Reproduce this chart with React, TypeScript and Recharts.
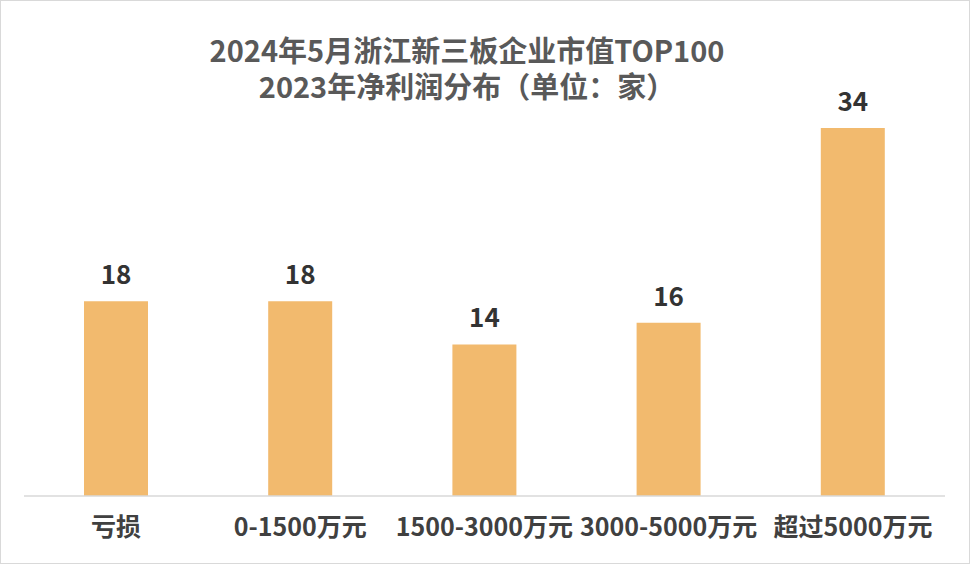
import React from "react";
import { BarChart, Bar, XAxis, YAxis, LabelList } from "recharts";

const categories = ["亏损", "0-1500万元", "1500-3000万元", "3000-5000万元", "超过5000万元"];
const counts = [18, 18, 14, 16, 34];
const titleLines = ["2024年5月浙江新三板企业市值TOP100", "2023年净利润分布（单位：家）"];

const data = categories.map((c, i) => ({ name: c, value: counts[i] }));

const FONT = '"Noto Sans CJK SC", "Noto Sans", sans-serif';

export default function App() {
  return (
    <div
      style={{
        position: "fixed",
        left: 0,
        top: 0,
        width: 970,
        height: 564,
        background: "#fff",
        fontFamily: FONT,
      }}
    >
      <div
        style={{
          position: "absolute",
          left: 0,
          top: 0,
          width: 968,
          height: 562,
          border: "1px solid #d9d9d9",
        }}
      />
      <div
        style={{
          position: "absolute",
          left: 0,
          top: 31,
          width: 934,
          textAlign: "center",
          fontSize: 29,
          fontWeight: 700,
          color: "#595959",
          lineHeight: "36px",
          whiteSpace: "pre",
        }}
      >
        {titleLines.join("\n")}
      </div>
      <div style={{ position: "absolute", left: 0, top: 0 }}>
        <BarChart
          width={970}
          height={564}
          data={data}
          margin={{ top: 63, right: 25, bottom: 38, left: 24 }}
        >
          <XAxis
            dataKey="name"
            axisLine={{ stroke: "#d9d9d9", strokeWidth: 1.5 }}
            tickLine={false}
            interval={0}
            tick={{ fontSize: 25, fontWeight: 700, fill: "#404040", fontFamily: FONT }}
            tickMargin={16}
          />
          <YAxis hide domain={[0, 40]} />
          <Bar dataKey="value" fill="#F2BA6E" isAnimationActive={false} barSize={64}>
            <LabelList
              dataKey="value"
              position="top"
              offset={17}
              style={{ fontSize: 26, fontWeight: 700, fill: "#333333", fontFamily: FONT }}
            />
          </Bar>
        </BarChart>
      </div>
    </div>
  );
}
